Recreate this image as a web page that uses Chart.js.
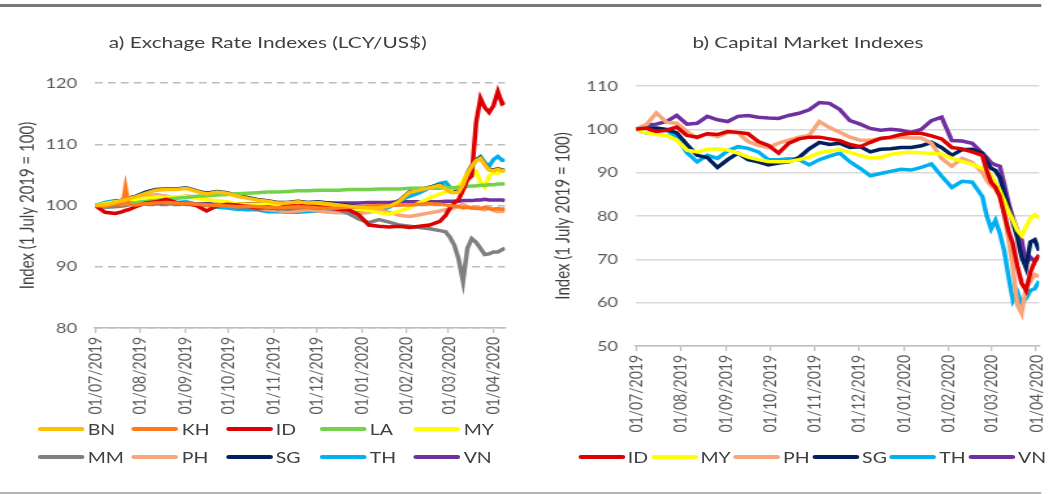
<!DOCTYPE html>
<html><head><meta charset="utf-8">
<script src="https://cdn.jsdelivr.net/npm/chart.js@4.4.1/dist/chart.umd.min.js"></script>
<style>
html,body{margin:0;padding:0;background:#fff;overflow:hidden;width:1051px;height:494px;}
#wrap{position:absolute;left:0;top:0;width:809px;height:494px;transform:scaleX(1.3);transform-origin:0 0;font-family:Lato,sans-serif;}
#topRule{position:absolute;left:0;top:4px;height:2.5px;width:801px;background:#7a7a7a;}
#botRule{position:absolute;left:0;top:492px;height:2px;width:801px;background:#b5b5b5;}
canvas{position:absolute;top:0;}
#c1{left:0;}
#c2{left:408px;}
.title{position:absolute;top:32px;font-size:16px;color:#404040;white-space:nowrap;transform:translateX(-50%);line-height:20px;}
.item{display:flex;align-items:center;height:28px;font-size:15px;color:#404040;white-space:nowrap;}
.swatch{display:inline-block;width:36px;height:4.5px;border-radius:2px;margin-right:2.3px;}
#lg1{position:absolute;left:29.2px;top:415px;display:grid;grid-template-columns:repeat(5,72.3px);grid-auto-rows:28px;}
#lg2{position:absolute;left:444.6px;top:443px;display:flex;gap:2px;}
</style>
</head><body>
<div id="wrap">
  <div id="topRule"></div>
  <div class="title" style="left:206px">a) Exchage Rate Indexes (LCY/US$)</div>
  <div class="title" style="left:621.5px">b) Capital Market Indexes</div>
  <canvas id="c1" width="408" height="430"></canvas>
  <canvas id="c2" width="410" height="440"></canvas>
  <div id="lg1"></div>
  <div id="lg2"></div>
  <div id="botRule"></div>
</div>
<script>
// ---- tick labels (days since 1 July 2019) ----
const monthDays = [0,31,62,92,123,153,184,215,244,275];
const monthLabels = ['01/07/2019','01/08/2019','01/09/2019','01/10/2019','01/11/2019','01/12/2019','01/01/2020','01/02/2020','01/03/2020','01/04/2020'];

// ---- a) Exchange rate indexes ----
const erDays = [0,7,14,19,21,23,28,35,42,49,56,63,70,77,84,91,98,105,112,119,126,133,140,147,154,161,168,175,182,189,196,203,210,217,224,231,238,242,245,248,251,254,257,260,263,266,269,272,275,278,281,283];
const erNames = ['BN','KH','ID','LA','MY','MM','PH','SG','TH','VN'];
const erBN = [100,100.1,100.5,100.8,100.9, 101.1,101.4,102.0,102.5,102.6, 102.6,102.8,102.3,101.9,102.2, 102.0,101.5,101.2,100.9,100.7, 100.4,100.4,100.6,100.4,100.5, 100.3,100.1,99.9,99.7,99.6, 99.6,99.9,100.7,102.1,102.5, 102.9,103.3,102.7,102.2,102.1, 102.2,103.4,105.2,106.4,107.3, 107.7,106.7,105.8,105.7,105.9, 105.7,105.6];
const erKH = [100,99.9,100.2,100.1,102.9, 100.2,100.1,100.3,100.4,100.5, 100.4,100.3,100.2,100.1,100.0, 99.9,99.8,99.9,99.8,99.7, 99.6,99.7,99.8,99.7,99.6, 99.5,99.6,99.7,99.8,99.9, 100.0,100.0,100.1,100.1,100.2, 100.3,100.2,100.1,100.0,99.9, 99.8,99.6,99.7,99.6,99.5, 99.5,99.7,99.5,99.4,99.5, 99.4,99.5];
const erID = [100,98.9,98.7,99.0,99.2, 99.3,99.8,100.4,100.6,101.0, 100.5,100.3,100.0,99.1,99.9, 100.2,100.1,99.9,99.6,99.8, 99.5,100.0,99.9,100.0,99.8, 99.6,99.4,99.3,98.5,96.8, 96.6,96.5,96.6,96.4,96.6, 96.8,97.4,98.4,99.6,100.4, 101.0,102.5,104.2,104.8,113.5, 117.5,116.0,115.2,116.3,118.6, 116.6,116.8];
const erLA = [100,100.1,100.2,100.2,100.3, 100.3,100.4,100.6,100.8,101.0, 101.2,101.3,101.5,101.6,101.7, 101.8,101.9,102.0,102.1,102.2, 102.2,102.3,102.4,102.4,102.5, 102.5,102.5,102.6,102.6,102.6, 102.7,102.7,102.7,102.8,102.8, 102.8,102.8,102.9,102.9,102.9, 103.0,103.0,103.1,103.2,103.2, 103.3,103.3,103.4,103.4,103.5, 103.5,103.6];
const erMY = [100,100.3,100.6,100.7,100.8, 100.9,101.0,101.2,101.4,101.3, 101.4,101.5,101.2,100.9,100.8, 100.6,100.3,100.2,100.2,100.3, 100.2,100.4,100.3,100.3,100.2, 99.9,99.7,99.5,99.4,99.2, 98.8,98.6,99.1,99.6,100.5, 101.2,101.9,102.2,102.5,102.9, 103.1,104.0,105.3,105.8,105.6, 103.8,103.0,104.8,105.4,105.3, 105.7,105.6];
const erMM = [100,99.7,99.8,99.9,100.0, 100.1,100.3,100.5,100.6,100.4, 100.3,100.2,100.3,100.1,100.0, 99.9,99.8,99.6,99.4,99.6, 99.5,99.4,99.6,99.7,99.5, 99.6,99.3,98.7,97.8,97.2, 97.7,97.3,96.8,96.6,96.4, 96.2,95.9,95.7,94.8,93.5, 91.2,87.6,93.0,94.6,94.0, 93.0,92.0,92.1,92.4,92.4, 92.8,93.0];
const erPH = [100,100.3,100.5,100.9,101.0, 101.1,101.3,101.5,101.8,101.5, 101.2,101.6,101.3,101.0,100.6, 100.4,100.1,99.8,99.5,99.3, 99.2,99.0,99.1,99.3,99.1, 98.9,98.8,98.9,98.7,98.9, 99.2,98.9,98.4,98.2,98.5, 98.8,99.1,99.3,99.4,99.6, 99.9,100.2,99.8,99.6,99.8, 99.5,99.3,99.6,99.2,99.0, 99.1,99.0];
const erSG = [100,100.2,100.6,100.9,101.0, 101.2,101.5,102.2,102.6,102.7, 102.7,102.9,102.4,102.0,102.3, 102.1,101.6,101.3,101.0,100.8, 100.5,100.5,100.7,100.5,100.6, 100.4,100.2,100.0,99.8,99.7, 99.7,100.0,100.8,102.2,102.6, 103.0,103.4,102.8,102.3,102.2, 102.3,103.5,105.3,106.5,107.4, 107.8,106.8,105.9,105.8,106.0, 105.8,105.7];
const erTH = [100,100.5,100.8,100.7,100.6, 100.7,101.0,100.8,100.6,100.7, 100.5,100.6,100.2,100.0,99.7, 99.6,99.4,99.3,99.3,99.0, 99.0,98.9,98.9,99.0,99.1, 99.0,98.9,98.8,99.0,99.0, 99.2,99.7,100.8,101.5,102.1, 102.9,103.6,103.8,103.0,102.4, 102.3,103.2,105.0,106.3,107.5, 108.0,107.0,106.4,107.5,108.0, 107.4,107.4];
const erVN = [100,100.1,100.2,100.2,100.2, 100.2,100.3,100.3,100.3,100.3, 100.3,100.3,100.3,100.3,100.3, 100.3,100.3,100.3,100.3,100.3, 100.3,100.3,100.4,100.4,100.4, 100.4,100.4,100.4,100.4,100.5, 100.5,100.5,100.6,100.6,100.6, 100.6,100.6,100.7,100.7,100.7, 100.7,100.8,100.8,100.8,100.9, 100.9,101.0,100.9,100.9,100.9, 100.9,100.8];

// ---- b) Capital market indexes ----
const cmDays = [0,7,14,21,28,35,42,49,56,63,70,77,84,91,98,105,112,119,126,133,140,147,154,161,168,175,182,189,196,203,210,217,224,231,238,241,244,247,250,253,256,259,262,265,268,271,274,277];
const cmNames = ['ID','MY','PH','SG','TH','VN'];
const cmID = [100,100.3,99.5,99.8,100.5, 98.6,98.2,99.0,98.8,99.5, 99.3,99.0,97.2,96.3,94.5, 96.8,97.8,98.2,98.2,97.8, 97.4,96.5,96.0,97.0,97.9, 98.2,98.8,99.1,99.1,98.5, 97.8,95.8,95.5,94.8,94.0, 90.5,87.8,86.6,84.5,80.5, 76.5,73.5,68.5,64.5,62.8, 67.0,69.5,71.0];
const cmMY = [100,99.2,98.8,98.6,97.5, 95.2,94.8,95.4,95.5,95.2, 94.5,93.6,93.0,92.6,92.5, 92.6,93.0,93.6,94.6,95.0, 95.3,94.7,94.0,93.4,93.5, 94.2,94.6,94.7,94.6,94.5, 94.3,93.3,92.6,91.9,91.0, 90.4,89.5,87.5,85.8,83.5, 81.0,79.0,76.7,75.5,77.5, 79.5,80.3,79.5];
const cmPH = [100,101.0,103.8,101.6,101.4, 99.5,98.0,99.0,98.3,99.3, 99.2,97.2,96.3,95.8,96.8, 97.5,98.2,98.6,101.8,100.4, 99.3,98.2,97.5,97.5,97.9, 98.0,98.2,98.0,98.0,96.8, 93.3,91.5,93.3,92.4,90.0, 88.2,87.0,86.2,84.5,80.6, 74.4,68.0,59.5,57.5,63.5, 65.0,66.5,66.0];
const cmSG = [100,100.3,100.3,100.0,99.2, 96.5,94.0,93.5,91.2,93.0, 94.5,93.0,92.5,91.8,92.2, 92.5,93.5,95.5,97.0,96.5, 96.8,95.8,96.0,94.8,95.4, 95.5,95.8,95.8,96.2,97.0, 95.8,94.0,95.3,95.4,94.5, 92.5,91.0,90.5,88.8,85.5, 82.0,78.5,75.0,70.5,68.0, 74.0,74.5,72.0];
const cmTH = [100,99.2,99.8,99.8,98.2, 94.6,92.5,94.0,93.3,95.0, 96.0,95.6,94.8,93.0,93.0, 93.2,93.0,91.8,93.0,93.8, 94.5,92.5,91.0,89.3,89.8, 90.3,90.8,90.6,91.2,92.0, 89.2,86.6,88.0,87.8,84.5, 80.0,77.0,79.0,76.0,72.0, 66.0,60.5,62.5,59.8,61.0, 62.8,63.2,65.0];
const cmVN = [100,101.0,101.2,101.8,103.2, 101.2,101.4,103.0,102.2,101.8, 103.0,103.2,102.8,102.6,102.5, 103.2,103.7,104.5,106.2,106.0, 104.6,102.0,101.2,100.2,99.8, 100.0,99.8,99.3,100.0,102.0, 102.8,97.4,97.3,96.8,94.5, 93.5,92.3,91.8,91.5,87.5, 83.0,79.5,76.8,74.5,69.0, 70.5,69.5,71.0];

// ---- styles ----
const colorOf = {BN:'#FFC000', KH:'#FF7A1A', ID:'#DD0000', LA:'#74D24A', MY:'#FFFF00', MM:'#808080', PH:'#F8A57A', SG:'#002060', TH:'#00B0F0', VN:'#7030A0'};

Chart.defaults.font.family = 'Lato, sans-serif';

function buildChart(canvasId, days, names, series, cfg) {
  const datasets = series.map((vals, i) => ({
    label: names[i],
    data: vals.map((v, j) => ({x: days[j], y: v})),
    borderColor: colorOf[names[i]],
    backgroundColor: colorOf[names[i]],
    borderWidth: 3.5,
    pointRadius: 0,
    tension: 0,
    fill: false
  }));
  return new Chart(document.getElementById(canvasId), {
    type: 'line',
    data: {datasets},
    options: {
      responsive: false, animation: false, events: [],
      layout: {padding: cfg.padding},
      plugins: {legend: {display: false}, title: {display: false}, tooltip: {enabled: false}},
      scales: {
        x: {
          type: 'linear', min: 0, max: cfg.xMax,
          afterBuildTicks: s => { s.ticks = monthDays.map(v => ({value: v})); },
          afterFit: s => { s.height = 90; },
          ticks: {autoSkip: false, minRotation: 90, maxRotation: 90, padding: 4, color: '#595959', font: {size: 14},
                  callback: v => { const k = monthDays.indexOf(v); return k >= 0 ? monthLabels[k] : ''; }},
          grid: {drawOnChartArea: false, drawTicks: true, tickLength: 5, color: '#bfbfbf', lineWidth: 1.2},
          border: {display: true, color: '#bfbfbf', width: 1.5}
        },
        y: {
          min: cfg.yMin, max: cfg.yMax,
          afterFit: s => { s.width = cfg.yWidth; },
          ticks: {stepSize: 10, padding: 13.8, color: '#595959', font: {size: 14}},
          grid: {color: cfg.gridColor, lineWidth: 1.5, drawTicks: false},
          border: {display: false, dash: cfg.dash},
          title: {display: true, text: 'Index (1 July 2019 = 100)', color: '#404040', font: {size: 15}, padding: {top: cfg.titlePad, bottom: 0}}
        }
      }
    }
  });
}

const chartA = buildChart('c1', erDays, erNames,
  [erBN, erKH, erID, erLA, erMY, erMM, erPH, erSG, erTH, erVN],
  {padding: {left: 10, right: 19.5, top: 83, bottom: 12}, yWidth: 63.1, xMax: 283, yMin: 80, yMax: 120, dash: [6, 4], gridColor: '#bdbdbd', titlePad: 2});
const chartB = buildChart('c2', cmDays, cmNames,
  [cmID, cmMY, cmPH, cmSG, cmTH, cmVN],
  {padding: {left: 10, right: 15.7, top: 86, bottom: 4}, yWidth: 71.2, xMax: 277, yMin: 50, yMax: 110, dash: [], gridColor: '#d9d9d9', titlePad: 6});

function buildLegend(el, chart) {
  chart.data.datasets.forEach(ds => {
    const it = document.createElement('div'); it.className = 'item';
    const sw = document.createElement('span'); sw.className = 'swatch'; sw.style.background = ds.borderColor;
    it.appendChild(sw); it.appendChild(document.createTextNode(ds.label));
    el.appendChild(it);
  });
}
buildLegend(document.getElementById('lg1'), chartA);
buildLegend(document.getElementById('lg2'), chartB);
</script>
</body></html>
